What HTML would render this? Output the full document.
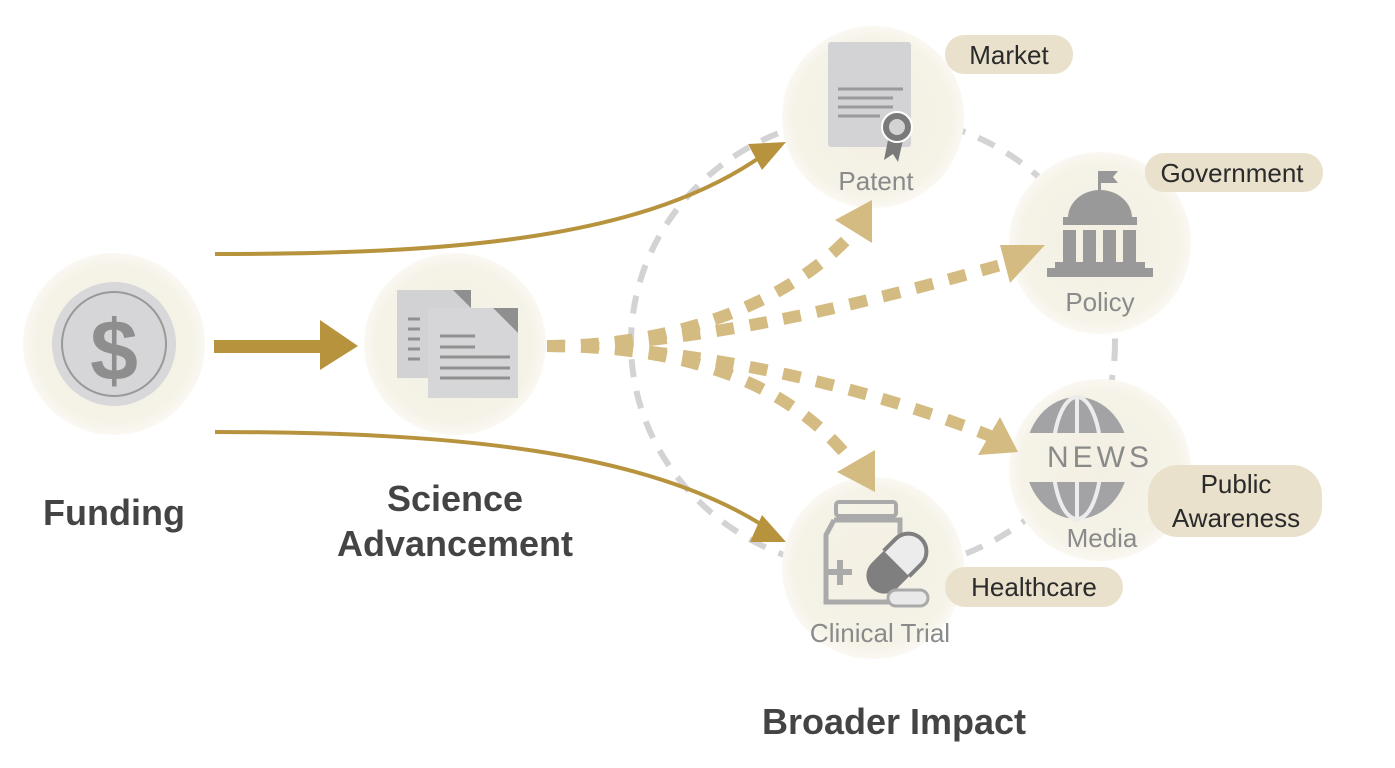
<!DOCTYPE html>
<html><head><meta charset="utf-8"><style>
html,body{margin:0;padding:0;background:#fff;}
svg{display:block;}
text{font-family:"Liberation Sans",sans-serif;}
</style></head><body>
<svg width="1395" height="768" viewBox="0 0 1395 768">
<defs>
<radialGradient id="bg" cx="50%" cy="50%" r="50%">
<stop offset="0%" stop-color="#f3efe3"/><stop offset="85%" stop-color="#f5f2e7"/><stop offset="100%" stop-color="#faf8f2"/>
</radialGradient>
<clipPath id="gc"><rect x="1000" y="390" width="160" height="43"/><rect x="1000" y="482" width="160" height="50"/></clipPath>
</defs>
<ellipse cx="873" cy="343" rx="242" ry="228" fill="none" stroke="#d3d3d5" stroke-width="6" stroke-dasharray="18 14"/>
<circle cx="114" cy="344" r="91" fill="url(#bg)"/>
<circle cx="455" cy="344" r="91" fill="url(#bg)"/>
<circle cx="873" cy="117" r="91" fill="url(#bg)"/>
<circle cx="1100" cy="243" r="91" fill="url(#bg)"/>
<circle cx="1100" cy="470" r="91" fill="url(#bg)"/>
<circle cx="873" cy="568" r="91" fill="url(#bg)"/>

<path d="M215,254 C450,254 650,240 770,150" fill="none" stroke="#b8933e" stroke-width="4"/>
<polygon points="786,142 748,144 762,170" fill="#b8933e"/>
<path d="M215,432 C450,432 650,450 770,530" fill="none" stroke="#b8933e" stroke-width="4"/>
<polygon points="786,542 762,515 750,542" fill="#b8933e"/>
<rect x="214" y="340" width="112" height="13" fill="#b8933e"/>
<polygon points="320,320 358,346 320,370" fill="#b8933e"/>

<g fill="none" stroke="#d4bb82" stroke-width="12" stroke-dasharray="18 16">
<path d="M547,346 C680,346 800,300 862,222"/>
<path d="M547,346 C700,346 880,300 1025,258"/>
<path d="M547,346 C700,346 880,390 1000,440"/>
<path d="M547,346 C700,346 800,390 858,470"/>
</g>
<g fill="#d4bb82">
<polygon points="872,200 835,220 872,243"/>
<polygon points="1045,245 1000,245 1010,283"/>
<polygon points="1018,452 1000,417 978,455"/>
<polygon points="875,492 837,472 875,450"/>
</g>

<circle cx="114" cy="344" r="62" fill="#d8d8da"/>
<circle cx="114" cy="344" r="52" fill="#d6d6d8" stroke="#999" stroke-width="2"/>
<text x="114" y="380" text-anchor="middle" font-size="86" font-weight="bold" fill="#8e8e8e">$</text>

<rect x="397" y="290" width="74" height="88" fill="#d2d2d4"/>
<polygon points="453,290 471,290 471,308" fill="#8f8f8f"/>
<g stroke="#909090" stroke-width="3"><line x1="408" y1="319" x2="420" y2="319"/><line x1="408" y1="329" x2="420" y2="329"/><line x1="408" y1="339" x2="420" y2="339"/><line x1="408" y1="349" x2="420" y2="349"/><line x1="408" y1="359" x2="420" y2="359"/></g>
<rect x="428" y="308" width="90" height="90" fill="#d6d6d8"/>
<polygon points="493,308 518,333 518,308" fill="#8f8f8f"/>
<polygon points="493,308 518,333 493,333" fill="#d6d6d8"/>
<g stroke="#909090" stroke-width="3"><line x1="440" y1="336" x2="475" y2="336"/><line x1="440" y1="347" x2="475" y2="347"/><line x1="440" y1="357" x2="510" y2="357"/><line x1="440" y1="368" x2="510" y2="368"/><line x1="440" y1="378" x2="510" y2="378"/></g>

<rect x="828" y="42" width="83" height="105" rx="3" fill="#d3d3d5"/>
<g stroke="#9a9a9a" stroke-width="3"><line x1="838" y1="89" x2="903" y2="89"/><line x1="838" y1="98" x2="893" y2="98"/><line x1="838" y1="107" x2="893" y2="107"/><line x1="838" y1="116" x2="880" y2="116"/></g>
<polygon points="888,140 884,160 893,154 898,162 903,140" fill="#7a7a7a"/>
<circle cx="897" cy="127" r="15" fill="#7a7a7a" stroke="#fff" stroke-width="2"/>
<circle cx="897" cy="127" r="8" fill="#d3d3d5"/>
<text x="876" y="190" text-anchor="middle" font-size="26" fill="#8a8a8a">Patent</text>

<rect x="1098" y="171" width="3" height="20" fill="#999"/>
<polygon points="1101,171 1118,171 1113,177 1118,183 1101,183" fill="#999"/>
<path d="M1068,218 A32,28 0 0 1 1132,218 Z" fill="#999"/>
<rect x="1063" y="217" width="74" height="8" fill="#999"/>
<rect x="1063" y="230" width="13" height="33" fill="#999"/><rect x="1083" y="230" width="13" height="33" fill="#999"/><rect x="1103" y="230" width="13" height="33" fill="#999"/><rect x="1123" y="230" width="13" height="33" fill="#999"/>
<rect x="1055" y="262" width="90" height="8" fill="#999"/>
<rect x="1047" y="268" width="106" height="9" fill="#999"/>
<text x="1100" y="311" text-anchor="middle" font-size="26" fill="#8a8a8a">Policy</text>

<g clip-path="url(#gc)">
<ellipse cx="1077" cy="458" rx="52" ry="61" fill="#a3a3a5"/>
<g stroke="#ececec" stroke-width="4" fill="none">
<line x1="1077" y1="395" x2="1077" y2="522"/>
<ellipse cx="1077" cy="458" rx="24" ry="61"/>
</g>
</g>
<text x="1100" y="467" text-anchor="middle" font-size="30" letter-spacing="4" fill="#8a8a8a">NEWS</text>
<text x="1102" y="547" text-anchor="middle" font-size="26" fill="#8a8a8a">Media</text>

<rect x="836" y="502" width="60" height="14" rx="3" fill="none" stroke="#aaa" stroke-width="4"/>
<path d="M834,520 L900,520 L900,540 M834,520 L826,535 L826,602 L895,602" fill="none" stroke="#aaa" stroke-width="5"/>
<path d="M840,560 L840,585 M828,572 L852,572" stroke="#aaa" stroke-width="6"/>
<g transform="rotate(-45 895 565)"><rect x="862" y="547" width="70" height="36" rx="18" fill="#7f7f7f"/><path d="M897,547 L914,547 A18,18 0 0 1 914,583 L897,583" fill="#ececec" stroke="#7f7f7f" stroke-width="4"/></g>
<rect x="888" y="590" width="40" height="16" rx="8" fill="#e9e9e9" stroke="#aaa" stroke-width="3"/>
<text x="880" y="642" text-anchor="middle" font-size="26" fill="#8a8a8a">Clinical Trial</text>

<g fill="#e9e1cc">
<rect x="945" y="35" width="128" height="39" rx="19"/>
<rect x="1145" y="153" width="178" height="39" rx="19"/>
<rect x="1148" y="465" width="174" height="72" rx="30"/>
<rect x="945" y="567" width="178" height="40" rx="20"/>
</g>
<g font-size="26" fill="#2a2a2a" text-anchor="middle">
<text x="1009" y="64">Market</text>
<text x="1232" y="182">Government</text>
<text x="1236" y="493">Public</text>
<text x="1236" y="527">Awareness</text>
<text x="1034" y="596">Healthcare</text>
</g>

<g font-size="36" font-weight="bold" fill="#444" text-anchor="middle">
<text x="114" y="525">Funding</text>
<text x="455" y="511">Science</text>
<text x="455" y="556">Advancement</text>
<text x="894" y="734">Broader Impact</text>
</g>
</svg>
</body></html>
